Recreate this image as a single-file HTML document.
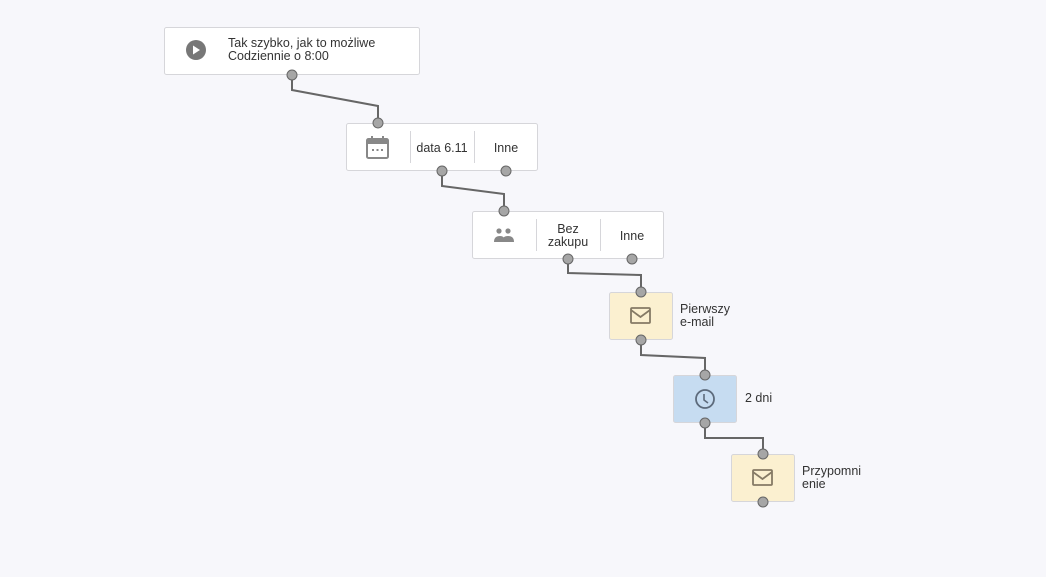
<!DOCTYPE html>
<html><head><meta charset="utf-8"><style>
html,body{margin:0;padding:0;background:#f7f7fb;}
svg{display:block;font-family:"Liberation Sans",sans-serif;}
text{fill:#333;font-size:12.5px;}
</style></head><body>
<svg width="1046" height="577" viewBox="0 0 1046 577">
<rect width="1046" height="577" fill="#f7f7fb"/>
<g fill="none" stroke="#666" stroke-width="2">
<polyline points="292,75 292,90 378,106 378,123"/>
<polyline points="442,171 442,186 504,194 504,211"/>
<polyline points="568,259 568,273 641,275 641,292"/>
<polyline points="641,340 641,355 705,358 705,375"/>
<polyline points="705,423 705,438 763,438 763,454"/>
</g>
<g stroke="#d6d6da" stroke-width="1">
<rect x="164.5" y="27.5" width="255" height="47" rx="2" fill="#fff"/>
<rect x="346.5" y="123.5" width="191" height="47" rx="2" fill="#fff"/>
<rect x="472.5" y="211.5" width="191" height="47" rx="2" fill="#fff"/>
<rect x="609.5" y="292.5" width="63" height="47" rx="2" fill="#fbf0d0"/>
<rect x="673.5" y="375.5" width="63" height="47" rx="2" fill="#c6dcf1"/>
<rect x="731.5" y="454.5" width="63" height="47" rx="2" fill="#fbf0d0"/>
<line x1="410.5" y1="131" x2="410.5" y2="163"/>
<line x1="474.5" y1="131" x2="474.5" y2="163"/>
<line x1="536.5" y1="219" x2="536.5" y2="251"/>
<line x1="600.5" y1="219" x2="600.5" y2="251"/>
</g>
<!-- play icon -->
<circle cx="196" cy="50" r="10" fill="#777"/>
<polygon points="193,45.5 193,54.5 200,50" fill="#fff"/>
<text x="228" y="47">Tak szybko, jak to możliwe</text>
<text x="228" y="60">Codziennie o 8:00</text>
<!-- calendar -->
<rect x="367" y="139" width="21" height="19" rx="1.5" fill="none" stroke="#888" stroke-width="2"/>
<rect x="367" y="139" width="21" height="5" fill="#888"/>
<line x1="372" y1="136" x2="372" y2="140" stroke="#888" stroke-width="2"/>
<line x1="383" y1="136" x2="383" y2="140" stroke="#888" stroke-width="2"/>
<g fill="#888"><rect x="372" y="149" width="2" height="2"/><rect x="376.5" y="149" width="2" height="2"/><rect x="381" y="149" width="2" height="2"/></g>
<text x="442" y="152" text-anchor="middle">data 6.11</text>
<text x="506" y="152" text-anchor="middle">Inne</text>
<!-- people -->
<g fill="#888">
<circle cx="499" cy="231" r="2.6"/><circle cx="508" cy="231" r="2.6"/>
<path d="M494,242 q0,-6 6,-6 q5,0 5,6z"/><path d="M502,242 q0,-6 6,-6 q6,0 6,6z"/>
</g>
<text x="568" y="233" text-anchor="middle">Bez</text>
<text x="568" y="246" text-anchor="middle">zakupu</text>
<text x="632" y="240" text-anchor="middle">Inne</text>
<!-- mail icons -->
<g fill="none" stroke="#857a65" stroke-width="1.8">
<rect x="631" y="308" width="19" height="15" rx="1"/><polyline points="631,310 640.5,317 650,310"/>
<rect x="753" y="470" width="19" height="15" rx="1"/><polyline points="753,472 762.5,479 772,472"/>
</g>
<text x="680" y="313">Pierwszy</text>
<text x="680" y="326">e-mail</text>
<!-- clock -->
<circle cx="705" cy="399" r="9" fill="none" stroke="#5d6b7c" stroke-width="1.8"/>
<polyline points="704,394 704,400 708,403" fill="none" stroke="#5d6b7c" stroke-width="1.6"/>
<text x="745" y="402">2 dni</text>
<text x="802" y="475">Przypomni</text>
<text x="802" y="488">enie</text>
<!-- ports -->
<g fill="#a6a6a6" stroke="#666" stroke-width="1">
<circle cx="292" cy="75" r="5"/>
<circle cx="378" cy="123" r="5"/>
<circle cx="442" cy="171" r="5"/><circle cx="506" cy="171" r="5"/>
<circle cx="504" cy="211" r="5"/>
<circle cx="568" cy="259" r="5"/><circle cx="632" cy="259" r="5"/>
<circle cx="641" cy="292" r="5"/><circle cx="641" cy="340" r="5"/>
<circle cx="705" cy="375" r="5"/><circle cx="705" cy="423" r="5"/>
<circle cx="763" cy="454" r="5"/><circle cx="763" cy="502" r="5"/>
</g>
</svg>
</body></html>
